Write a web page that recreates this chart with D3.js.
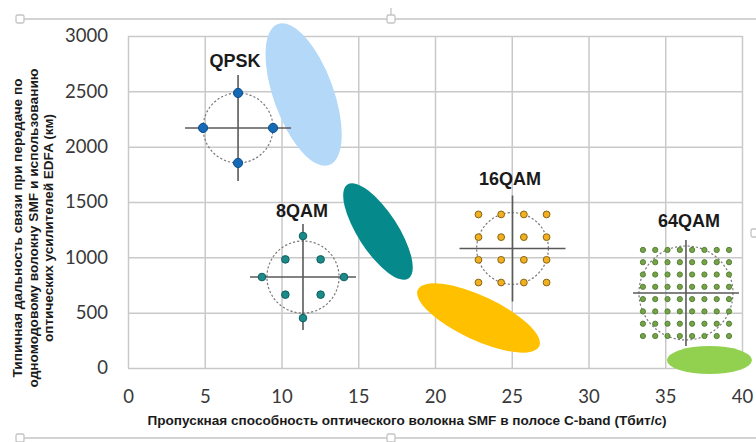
<!DOCTYPE html>
<html>
<head>
<meta charset="utf-8">
<script src="https://cdn.jsdelivr.net/npm/d3@7"></script>
<style>
  body { margin: 0; background: #fff; }
  svg { display: block; }
</style>
</head>
<body>
<script>
// axis ticks
var xTicks = [0, 5, 10, 15, 20, 25, 30, 35, 40];
var yTicks = [0, 500, 1000, 1500, 2000, 2500, 3000];

// shaded regions: ends of long axis, [capacity Tbit/s, reach km]
var regionNames = ["QPSK", "8QAM", "16QAM", "64QAM"];
var regionStart = [[9.77, 3108], [14.30, 1658], [18.88, 708], [35.11, 72]];
var regionEnd   = [[13.11, 1834], [18.27, 809], [26.79, 196], [40.65, 72]];

// constellation insets: centre in chart units
var constCenter = [[7.17, 2169], [11.4, 822], [25.05, 1080], [36.35, 678]];
// I/Q points of each constellation
var qpskPts = [[0, 1], [-1, 0], [1, 0], [0, -1]];
var qam8Pts = [[0, 1], [-1, 0], [1, 0], [0, -1], [-0.43, 0.43], [0.43, 0.43], [-0.43, -0.43], [0.43, -0.43]];
var lev4 = [-1.5, -0.5, 0.5, 1.5];
var lev8 = [-3.5, -2.5, -1.5, -0.5, 0.5, 1.5, 2.5, 3.5];
var qam16Pts = [];
lev4.forEach(function(i) { lev4.forEach(function(q) { qam16Pts.push([i, q]); }); });
var qam64Pts = [];
lev8.forEach(function(i) { lev8.forEach(function(q) { qam64Pts.push([i, q]); }); });
var constPts = [qpskPts, qam8Pts, qam16Pts, qam64Pts];
var constRing = [1, 0.88, 1.58, 3.82];   // dashed circle radius, I/Q units

// axis titles
var xTitle = "Пропускная способность оптического волокна SMF в полосе C-band (Тбит/с)";
var yTitle = ["Типичная дальность связи при передаче по",
              "одномодовому волокну SMF и использованию",
              "оптических усилителей EDFA (км)"];

// styles
var fillColor = ["#b4d8f8", "#05898b", "#ffc000", "#92d050"];
var halfWidth = [30, 20, 22, 14];
var unitPx = [35, 41, 22.7, 12.3];
var dotR = [4.6, 3.8, 3.4, 2.6];
var dotFill = ["#1669b4", "#1d8a8a", "#f0b020", "#76a444"];
var dotStroke = ["#0d4f8a", "#0e6060", "#8a6414", "#55803a"];
var labelPos = [[235, 67], [302, 217], [510, 185], [689, 227]];
var yTitleLen = [299, 319, 228];

var W = 756, H = 442;
var svg = d3.select("body").append("svg").attr("width", W).attr("height", H);

var x = d3.scaleLinear().domain([0, 40]).range([128, 742]);
var y = d3.scaleLinear().domain([0, 3000]).range([368, 36]);

// frame of the embedded object
var frame = svg.append("g").attr("stroke", "#c4c4c4").attr("fill", "#fff").attr("stroke-width", 1.3);
frame.append("line").attr("x1", 24).attr("x2", 756).attr("y1", 19).attr("y2", 19);
frame.append("line").attr("x1", 24).attr("x2", 756).attr("y1", 438).attr("y2", 438);
frame.append("line").attr("x1", 391).attr("x2", 391).attr("y1", 8).attr("y2", 15);
[[16, 15], [387, 15], [16, 434], [387, 434], [751, 229]].forEach(function(p) {
  frame.append("rect").attr("x", p[0]).attr("y", p[1]).attr("width", 8).attr("height", 8).attr("rx", 1.5);
});

// grid + tick labels
var gx = svg.append("g").attr("transform", "translate(0,368)")
  .call(d3.axisBottom(x).tickValues(xTicks).tickFormat(d3.format("d")).tickSize(-332).tickPadding(22));
var gy = svg.append("g").attr("transform", "translate(128,0)")
  .call(d3.axisLeft(y).tickValues(yTicks).tickFormat(d3.format("d")).tickSize(-614).tickPadding(20));
[gx, gy].forEach(function(g) {
  g.select(".domain").remove();
  g.selectAll(".tick line").attr("stroke", "#c9c9c9").attr("stroke-width", 1.5);
  g.selectAll(".tick text").attr("fill", "#383838")
    .style("font-family", "Lato, 'Open Sans', sans-serif").style("font-size", "18.5px");
});

// shaded regions
var regions = regionNames.map(function(n, i) {
  var x1 = x(regionStart[i][0]), y1 = y(regionStart[i][1]);
  var x2 = x(regionEnd[i][0]), y2 = y(regionEnd[i][1]);
  return {
    cx: (x1 + x2) / 2, cy: (y1 + y2) / 2,
    rx: Math.hypot(x2 - x1, y2 - y1) / 2,
    ry: halfWidth[i],
    ang: Math.atan2(y2 - y1, x2 - x1) * 180 / Math.PI,
    color: fillColor[i]
  };
});
svg.selectAll("ellipse.region").data(regions).join("ellipse")
  .attr("class", "region")
  .attr("cx", 0).attr("cy", 0)
  .attr("rx", function(d) { return d.rx; })
  .attr("ry", function(d) { return d.ry; })
  .attr("transform", function(d) { return "translate(" + d.cx + "," + d.cy + ") rotate(" + d.ang + ")"; })
  .attr("fill", function(d) { return d.color; });

// constellation insets
constPts.forEach(function(pts, i) {
  var cx = x(constCenter[i][0]), cy = y(constCenter[i][1]);
  var u = unitPx[i];
  var g = svg.append("g").attr("transform", "translate(" + cx + "," + cy + ")");
  g.append("circle").attr("r", constRing[i] * u)
    .attr("fill", "none").attr("stroke", "#7a7a7a").attr("stroke-width", 1.2)
    .attr("stroke-dasharray", "2.2,2");
  g.append("line").attr("x1", -53).attr("x2", 53).attr("stroke", "#5a5a5a").attr("stroke-width", 1.6);
  g.append("line").attr("y1", -53).attr("y2", 53).attr("stroke", "#5a5a5a").attr("stroke-width", 1.6);
  g.selectAll("circle.pt").data(pts).join("circle")
    .attr("class", "pt")
    .attr("cx", function(d) { return d[0] * u; })
    .attr("cy", function(d) { return -d[1] * u; })
    .attr("r", dotR[i])
    .attr("fill", dotFill[i]).attr("stroke", dotStroke[i]).attr("stroke-width", 1);
  svg.append("text").attr("x", labelPos[i][0]).attr("y", labelPos[i][1])
    .attr("text-anchor", "middle").attr("fill", "#1a1a1a")
    .style("font-family", "'Liberation Sans', Arial, sans-serif")
    .style("font-weight", "bold").style("font-size", "18px")
    .text(regionNames[i]);
});

// axis titles
svg.append("text").attr("x", 407).attr("y", 425).attr("text-anchor", "middle")
  .attr("textLength", 519).attr("lengthAdjust", "spacingAndGlyphs")
  .style("font-family", "'Liberation Sans', Arial, sans-serif").style("font-weight", "bold")
  .style("font-size", "12.5px").attr("fill", "#1a1a1a")
  .text(xTitle);

svg.append("g").attr("transform", "translate(22,228) rotate(-90)")
  .selectAll("text").data(yTitle).join("text")
  .attr("x", 0).attr("y", function(d, i) { return i * 15.5; })
  .attr("text-anchor", "middle").attr("fill", "#1a1a1a")
  .attr("textLength", function(d, i) { return yTitleLen[i]; })
  .attr("lengthAdjust", "spacingAndGlyphs")
  .style("font-family", "'Liberation Sans', Arial, sans-serif").style("font-weight", "bold")
  .style("font-size", "12.5px")
  .text(function(d) { return d; });
</script>
</body>
</html>
